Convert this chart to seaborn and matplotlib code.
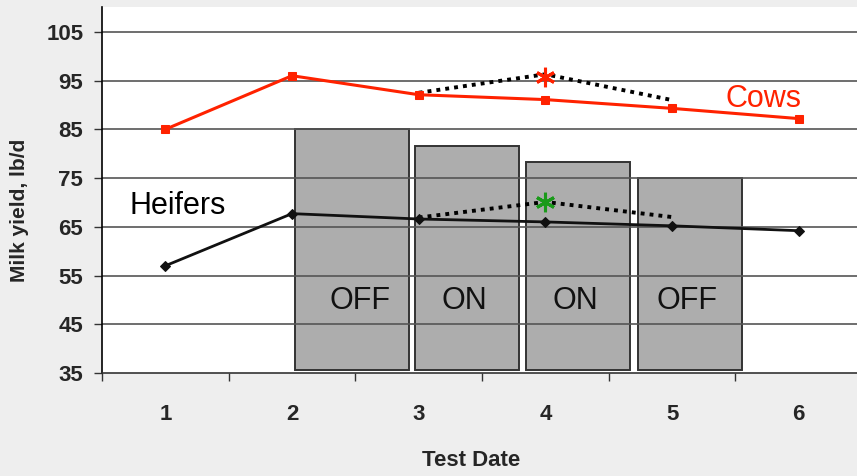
import matplotlib
matplotlib.use("Agg")
import matplotlib.pyplot as plt
import seaborn as sns
import pandas as pd

# values
test_dates = [1, 2, 3, 4, 5, 6]
cows = [85.0, 96.0, 92.1, 91.1, 89.3, 87.2]
heifers = [57.0, 67.7, 66.6, 66.0, 65.2, 64.2]

# dotted "treatment" paths for tests 3-5
trt_dates = [3, 4, 5]
cows_trt = [92.5, 96.3, 91.0]
heifers_trt = [66.9, 70.1, 67.0]

# grey blocks behind the lines
bar_labels = ["OFF", "ON", "ON", "OFF"]
bar_tops = [85.0, 81.5, 78.2, 75.0]
bar_base = 35.7
bar_left = [2.02, 2.97, 3.85, 4.73]
bar_right = [2.92, 3.79, 4.67, 5.55]
label_x = [2.54, 3.36, 4.24, 5.12]

y_ticks = [35, 45, 55, 65, 75, 85, 95, 105]

RED = "#ff2200"
DARK = "#111111"
BG = "#eeeeee"

sns.set_style("white")
plt.rcParams["font.family"] = ["Liberation Sans", "DejaVu Sans"]

fig = plt.figure(figsize=(8.57, 4.76), dpi=100, facecolor=BG)
ax = fig.add_axes([102 / 857, 1 - 373 / 476, 755 / 857, 366 / 476])
ax.set_facecolor("white")

# bars
widths = [r - l for l, r in zip(bar_left, bar_right)]
heights = [t - bar_base for t in bar_tops]
ax.bar(bar_left, heights, width=widths, bottom=bar_base, align="edge",
       color="#adadad", edgecolor="#333333", linewidth=1.4, zorder=1)
for x, lab in zip(label_x, bar_labels):
    ax.text(x, 49.7, lab, ha="center", va="center", fontsize=22, color="#111111", zorder=2)

# horizontal grid over the bars
for y in y_ticks[1:]:
    ax.axhline(y, color="#555555", linewidth=1.2, zorder=1.5)

df = pd.DataFrame({"date": test_dates, "Cows": cows, "Heifers": heifers})
trt = pd.DataFrame({"date": trt_dates, "cows": cows_trt, "heifers": heifers_trt})

sns.lineplot(data=df, x="date", y="Heifers", ax=ax, color=DARK, linewidth=2,
             marker="D", markersize=5, markeredgecolor=DARK, zorder=4)
sns.lineplot(data=df, x="date", y="Cows", ax=ax, color=RED, linewidth=2.2,
             marker="s", markersize=6, markeredgecolor=RED, zorder=4)
sns.lineplot(data=trt, x="date", y="heifers", ax=ax, color="black", linewidth=2.8,
             linestyle=(0, (1, 1.3)), zorder=3)
sns.lineplot(data=trt, x="date", y="cows", ax=ax, color="black", linewidth=2.8,
             linestyle=(0, (1, 1.3)), zorder=3)

# significance asterisks
ax.plot([4], [95.7], marker=(6, 2, 0), markersize=14, markeredgewidth=2.2,
        color=RED, linestyle="none", zorder=5)
ax.plot([4], [70.0], marker=(6, 2, 0), markersize=14, markeredgewidth=2.2,
        color="#1a9a1a", linestyle="none", zorder=5)

ax.text(5.72, 91.2, "Cows", color=RED, fontsize=22, ha="center", va="center")
ax.text(1.1, 69.2, "Heifers", color="black", fontsize=22, ha="center", va="center")

ax.set_xlim(0.5, 6.46)
ax.set_ylim(35, 110.1)
ax.set_yticks(y_ticks)
ax.set_yticklabels([str(v) for v in y_ticks], fontsize=16, fontweight="bold")
ax.set_xticks(test_dates)
ax.set_xticklabels([str(d) for d in test_dates], fontsize=16, fontweight="bold")
ax.set_xticks([d + 0.5 for d in [0] + test_dates[:-1]], minor=True)
ax.tick_params(axis="x", which="major", bottom=True, length=0, pad=22)
ax.tick_params(axis="x", which="minor", bottom=True, length=6, width=1,
               color="#333333", direction="out")
ax.tick_params(axis="y", left=True, length=5.5, width=1, color="#333333",
               direction="out", pad=8)

ax.set_xlabel("Test Date", fontsize=16, fontweight="bold")
ax.xaxis.set_label_coords(0.489, -0.238)
ax.xaxis.label.set_va("center")
ax.set_ylabel("Milk yield, lb/d", fontsize=15, fontweight="bold")
ax.yaxis.set_label_coords(-0.109, 0.445)
ax.yaxis.label.set_va("center")

for side in ["top", "right"]:
    ax.spines[side].set_visible(False)
ax.spines["left"].set_color("black")
ax.spines["bottom"].set_color("#333333")
ax.spines["left"].set_linewidth(1.2)
ax.spines["bottom"].set_linewidth(1.2)

fig.savefig("out.png", dpi=100, facecolor=BG)
